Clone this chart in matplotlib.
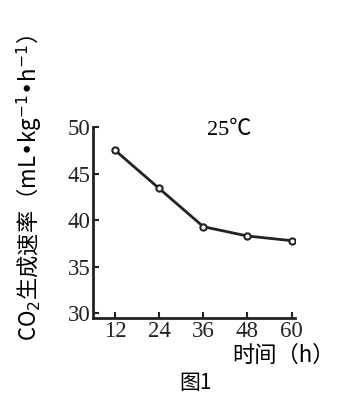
import matplotlib.pyplot as plt

plt.rcParams['font.family'] = ['Noto Sans CJK SC', 'DejaVu Sans']

hours = [12, 24, 36, 48, 60]
co2_rate = [47.5, 43.4, 39.3, 38.3, 37.8]
x_ticks = [12, 24, 36, 48, 60]
y_ticks = [30, 35, 40, 45, 50]

fig = plt.figure(figsize=(3.37, 4.0), dpi=100)
ax = fig.add_axes([0.276, 0.205, 0.599, 0.4775])

ax.plot(hours, co2_rate, color='#222222', lw=2, marker='o', ms=4.5,
        mfc='white', mec='#222222', mew=1.5)

ax.set_xlim(6, 60.9)
ax.set_ylim(29.5, 50)
ax.set_xticks(x_ticks)
ax.set_yticks(y_ticks)
ax.spines['top'].set_visible(False)
ax.spines['right'].set_visible(False)
for s in ['left', 'bottom']:
    ax.spines[s].set_linewidth(2)
    ax.spines[s].set_color('#222222')
ax.tick_params(direction='in', length=4, width=1.5, colors='#222222', pad=2)
for lab in ax.get_xticklabels() + ax.get_yticklabels():
    lab.set_family('Liberation Serif')
    lab.set_fontsize(16.5)

ax.text(43, 49.6, '25℃', ha='center', va='center', fontsize=16,
        family=['Liberation Serif', 'Noto Sans CJK SC', 'DejaVu Sans'])

fig.text(0.085, 0.53, 'CO$_2$生成速率（mL•kg$^{-1}$•h$^{-1}$）', rotation=90,
         ha='center', va='center', fontsize=16)
fig.text(0.84, 0.112, '时间（h）', ha='center', va='center', fontsize=16)
fig.text(0.58, 0.043, '图1', ha='center', va='center', fontsize=15)

fig.savefig('out.png', dpi=100)
